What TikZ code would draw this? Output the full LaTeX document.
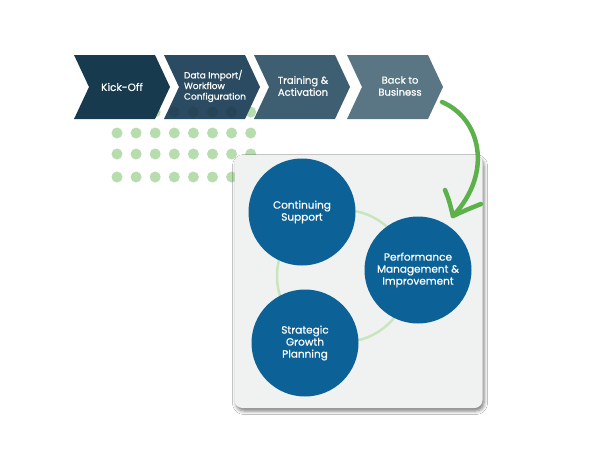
\documentclass[tikz,border=0pt]{standalone}
\usepackage{fontspec}
\setmainfont{Poppins}[FakeBold=0.6]
\usetikzlibrary{shadows.blur}
\definecolor{cA}{HTML}{173A4F}
\definecolor{cB}{HTML}{2A4B61}
\definecolor{cC}{HTML}{3E5E72}
\definecolor{cD}{HTML}{5A7684}
\definecolor{circc}{HTML}{0C6296}
\definecolor{dotc}{HTML}{B7DCAE}
\definecolor{ringc}{HTML}{C8E6BE}
\definecolor{panelc}{HTML}{F0F2F1}
\definecolor{arrowc}{HTML}{5DB14A}
\tikzset{
  lbl/.style={text=white, align=center, inner sep=0pt, font=\fontsize{10}{12}\selectfont},
  bubble/.style={circle, fill=circc, text=white, align=center, inner sep=0pt, minimum size=107pt, font=\fontsize{10.5}{12}\selectfont},
  panelbox/.style={fill=panelc, rounded corners=8pt, minimum width=248pt, minimum height=253pt, inner sep=0pt,
     blur shadow={shadow xshift=1.5pt, shadow yshift=-3pt, shadow blur radius=3.5pt, shadow opacity=50}},
  greendot/.style={fill=dotc},
  arr/.style={draw=arrowc, line width=4.5pt, line cap=round, line join=round}
}
\begin{document}
\begin{tikzpicture}[x=1pt,y=-1pt]
\useasboundingbox (0,0) rectangle (600,450);
\fill[white] (0,0) rectangle (600,450);
% dots
\foreach \r in {133,154,177}{
  \foreach \i in {0,...,7}{
    \fill[greendot] ({117+19.1*\i},\r) circle (5.5);
  }
}
\foreach \i in {2,...,7}{
  \fill[greendot] ({117+19.1*\i},112) circle (5.5);
}
% chevrons
\foreach \L/\c in {74/cA,164/cB,254/cC,347/cD}{
  \fill[\c] (\L,55) -- ++(81,0) -- ++(15,32) -- ++(-15,32) -- ++(-81,0) -- ++(15,-32) -- cycle;
}
\foreach \i in {3,...,6}{
  \fill[black, opacity=0.08] ({117+19.1*\i},112) circle (5.5);
}
\node[lbl, font=\fontsize{10.5}{12}\selectfont] (k1) at (122,87) {Kick-Off};
\node[lbl, align=left, font=\fontsize{9}{10.6}\selectfont] (k2) at (215,86) {Data Import/\\Workflow\\Configuration};
\node[lbl] (k3) at (303,86) {Training \&\\Activation};
\node[lbl] (k4) at (400,86) {Back to\\Business};
% panel
\node[panelbox] (panel) at (358.5,281.5) {};
\draw[ringc, line width=2.5pt] (343,276) circle (66);
\node[bubble] (cs) at (302,212) {Continuing\\Support};
\node[bubble] (pm) at (418,270) {Performance\\Management \&\\Improvement};
\node[bubble] (sg) at (305,343) {Strategic\\Growth\\Planning};
% arrow
\coordinate (a0) at (442,102);
\coordinate (a1) at (453,216);
\coordinate (bl) at (445,190);
\coordinate (br) at (481,204);
\draw[arr] (a0) .. controls (480,118) and (494,172) .. (a1);
\draw[arr] (bl) .. controls (449,200) .. (a1) .. controls (466,210) .. (br);
\end{tikzpicture}
\end{document}
